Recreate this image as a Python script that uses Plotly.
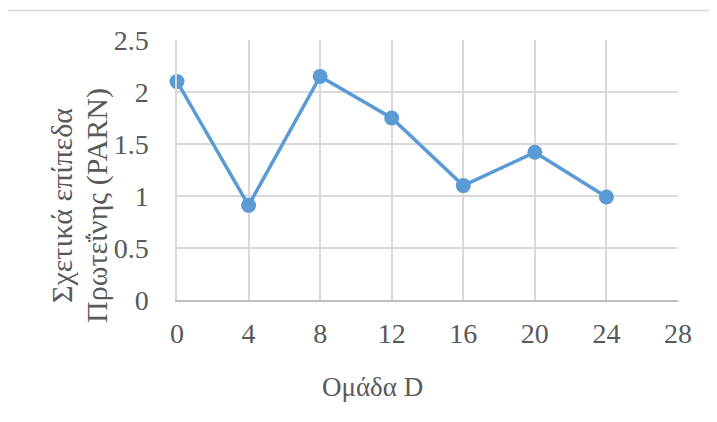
import plotly.graph_objects as go

x_vals = [0, 4, 8, 12, 16, 20, 24]
y_vals = [2.1, 0.91, 2.15, 1.75, 1.10, 1.42, 0.99]
x_ticks = [0, 4, 8, 12, 16, 20, 24, 28]
y_ticks = [0, 0.5, 1, 1.5, 2, 2.5]
y_tick_text = ["0", "0.5", "1", "1.5", "2", "2.5"]
x_title = "Ομάδα D"
y_title_lines = ["Σχετικά επίπεδα", "Πρωτεΐνης (PARN)"]

OFF = 8  # page body margin
W, H = 717 - OFF, 422 - OFF
L, R, T, B = 177 - OFF, 678 - OFF, 40 - OFF, 300 - OFF

def px(x):
    return (x - OFF - L) / (R - L)

def py(y):
    return (B - (y - OFF)) / (B - T)

FONT = "Liberation Serif, Times New Roman, serif"
TXT = "#595959"

fig = go.Figure()
fig.add_trace(go.Scatter(
    x=x_vals, y=y_vals, mode="lines+markers",
    line=dict(color="#5b9bd5", width=3.5),
    marker=dict(color="#5b9bd5", size=15),
    showlegend=False, cliponaxis=False,
))

fig.update_layout(
    width=W, height=H,
    margin=dict(l=L, r=W - R, t=T, b=H - B, pad=0),
    paper_bgcolor="white", plot_bgcolor="white",
    font=dict(family=FONT, size=28, color=TXT),
    xaxis=dict(
        range=[0, 28], tickvals=x_ticks, ticktext=[str(v) for v in x_ticks],
        showgrid=True, gridcolor="#d9d9d9", gridwidth=1.5,
        showline=True, linecolor="#bfbfbf", linewidth=1.5,
        ticks="outside", ticklen=8, tickcolor="rgba(0,0,0,0)",
        zeroline=False, tickfont=dict(family=FONT, size=28, color=TXT),
    ),
    yaxis=dict(
        range=[0, 2.5], tickvals=y_ticks, ticktext=y_tick_text,
        showgrid=True, gridcolor="#d9d9d9", gridwidth=1.5,
        showline=True, linecolor="#d9d9d9", linewidth=1.5,
        ticks="outside", ticklen=21, tickcolor="rgba(0,0,0,0)",
        zeroline=False, tickfont=dict(family=FONT, size=28, color=TXT),
    ),
    annotations=[
        dict(text=x_title, x=px(372), y=py(387), xref="paper", yref="paper",
             showarrow=False, xanchor="center", yanchor="middle",
             font=dict(family=FONT, size=27, color=TXT)),
        dict(text=y_title_lines[0], x=px(61), y=py(206), xref="paper", yref="paper",
             showarrow=False, xanchor="center", yanchor="middle", textangle=-90,
             font=dict(family=FONT, size=30, color=TXT)),
        dict(text=y_title_lines[1], x=px(97), y=py(206), xref="paper", yref="paper",
             showarrow=False, xanchor="center", yanchor="middle", textangle=-90,
             font=dict(family=FONT, size=30, color=TXT)),
    ],
    shapes=[
        dict(type="line", xref="paper", yref="paper",
             x0=px(6), x1=px(717), y0=py(10.5), y1=py(10.5),
             line=dict(color="#d9d9d9", width=1.5)),
        dict(type="line", xref="paper", yref="paper",
             x0=px(6.5), x1=px(6.5), y0=py(10.5), y1=py(422),
             line=dict(color="#d9d9d9", width=1.5)),
    ],
)

fig.write_html("out.html")
